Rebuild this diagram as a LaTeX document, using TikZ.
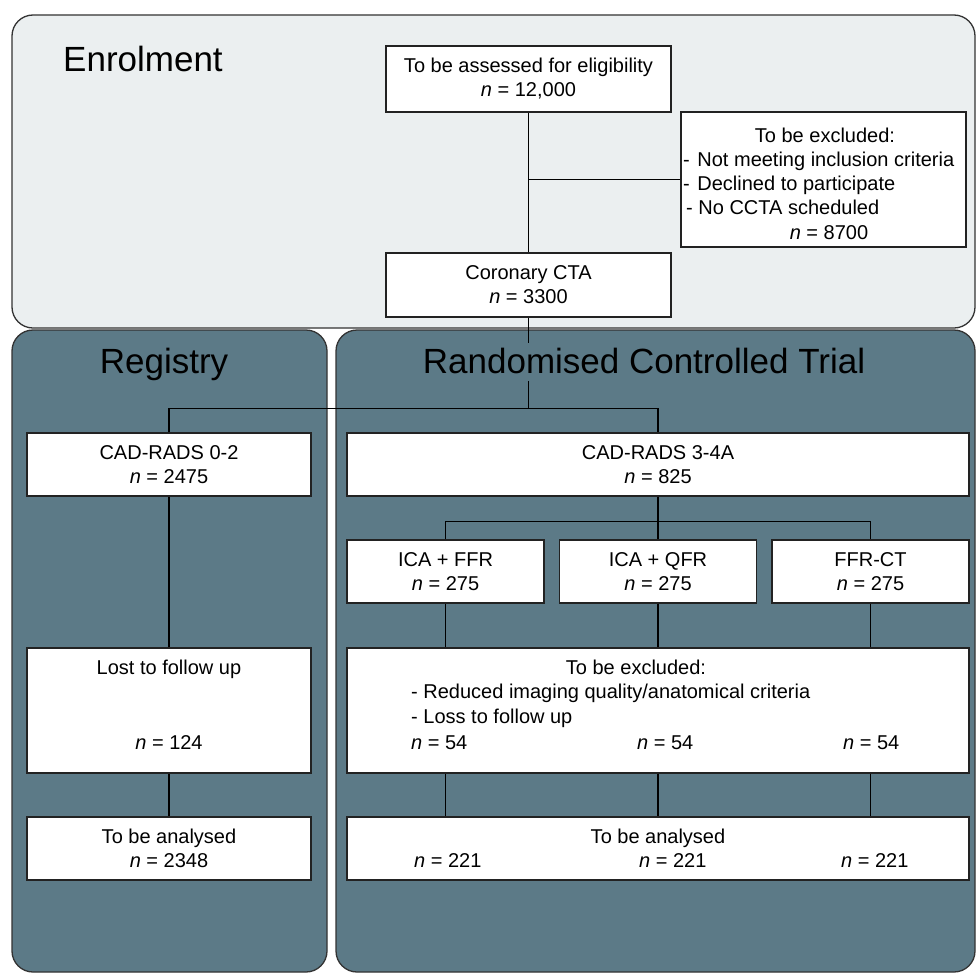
\documentclass[tikz,border=0pt]{standalone}
\usepackage{fontspec}
\setmainfont{Liberation Sans}
\newcommand{\bxfont}{\fontsize{20}{24}\selectfont}
\newcommand{\hdfont}{\fontsize{35}{40}\selectfont}
\definecolor{enrolfill}{HTML}{EBEFF0}
\definecolor{darkfill}{HTML}{5C7A87}
\definecolor{panelline}{HTML}{333333}
\definecolor{boxline}{HTML}{222222}
\begin{document}
\begin{tikzpicture}[x=1pt,y=-1pt,
  panel/.style={draw=panelline, line width=1.3pt, rounded corners=21pt},
  box/.style={draw=boxline, fill=white, line width=1.5pt, inner sep=0pt, align=center, font=\bxfont},
  conn/.style={draw=black, line width=1.5pt},
  txt/.style={inner sep=0pt, font=\bxfont},
  head/.style={inner sep=0pt, font=\hdfont, text=black}]
\useasboundingbox (0,0) rectangle (976,974);
\fill[white] (0,0) rectangle (976,974);
% panels
\draw[panel, fill=enrolfill] (12,15) rectangle (975,328);
\draw[panel, fill=darkfill] (12,330) rectangle (327,972);
\draw[panel, fill=darkfill] (336,330) rectangle (975,972);
% boxes
\node[box, minimum width=285pt, minimum height=66pt] (assess) at (528.5,79) {To be assessed for eligibility\\\textit{n} = 12,000};
\node[box, minimum width=285pt, minimum height=135pt] (excl1) at (823.5,179.5) {};
\node[box, minimum width=285pt, minimum height=64pt] (coronary) at (528.5,285) {Coronary CTA\\\textit{n} = 3300};
\node[box, minimum width=284pt, minimum height=63pt] (cad02) at (169,464.5) {CAD-RADS 0-2\\\textit{n} = 2475};
\node[box, minimum width=622pt, minimum height=63pt] (cad34) at (658,464.5) {CAD-RADS 3-4A\\\textit{n} = 825};
\node[box, minimum width=197pt, minimum height=63pt] (icaffr) at (445.5,571.5) {ICA + FFR\\\textit{n} = 275};
\node[box, minimum width=197pt, minimum height=63pt] (icaqfr) at (658,571.5) {ICA + QFR\\\textit{n} = 275};
\node[box, minimum width=197pt, minimum height=63pt] (ffrct) at (870.5,571.5) {FFR-CT\\\textit{n} = 275};
\node[box, minimum width=284pt, minimum height=125pt] (lost) at (169,710.5) {};
\node[box, minimum width=622pt, minimum height=125pt] (excl2) at (658,710.5) {};
\node[box, minimum width=284pt, minimum height=63pt] (anal1) at (169,848.5) {To be analysed\\\textit{n} = 2348};
\node[box, minimum width=622pt, minimum height=63pt] (anal2) at (658,848.5) {};
% texts inside boxes
\node[txt, anchor=base] (e1head) at (825,142) {To be excluded:};
\node[txt, anchor=base west] (e1a) at (683,166) {-\hspace{0.1em} Not meeting inclusion criteria};
\node[txt, anchor=base west] (e1b) at (683,190) {-\hspace{0.1em} Declined to participate};
\node[txt, anchor=base west] (e1c) at (686,214) {- No CCTA scheduled};
\node[txt, anchor=base] (e1n) at (829,239) {\textit{n} = 8700};
\node[txt, anchor=base] (losthead) at (169,674) {Lost to follow up};
\node[txt, anchor=base] (lostn) at (169,749) {\textit{n} = 124};
\node[txt, anchor=base] (e2head) at (636,674) {To be excluded:};
\node[txt, anchor=base west] (e2a) at (411,698) {- Reduced imaging quality/anatomical criteria};
\node[txt, anchor=base west] (e2b) at (411,723) {- Loss to follow up};
\node[txt, anchor=base west] (e2n1) at (411,749) {\textit{n} = 54};
\node[txt, anchor=base west] (e2n2) at (637,749) {\textit{n} = 54};
\node[txt, anchor=base west] (e2n3) at (843,749) {\textit{n} = 54};
\node[txt, anchor=base] (a2head) at (658,843) {To be analysed};
\node[txt, anchor=base west] (a2n1) at (414,867) {\textit{n} = 221};
\node[txt, anchor=base west] (a2n2) at (639,867) {\textit{n} = 221};
\node[txt, anchor=base west] (a2n3) at (841,867) {\textit{n} = 221};
% connectors
\coordinate (split1) at (528.5,408.7);
\coordinate (split2) at (658,521.7);
\draw[conn] (assess.south) -- (coronary.north);
\draw[conn] (assess.south |- excl1.west) -- (excl1.west);
\draw[conn] (coronary.south) -- (split1);
\draw[conn] (cad02.north) |- (split1) -| (cad34.north);
\draw[conn] (cad34.south) -- (icaqfr.north);
\draw[conn] (icaffr.north) |- (split2) -| (ffrct.north);
\draw[conn] (cad02.south) -- (lost.north);
\draw[conn] (lost.south) -- (anal1.north);
\draw[conn] (icaffr.south) -- (icaffr.south |- excl2.north);
\draw[conn] (icaqfr.south) -- (icaqfr.south |- excl2.north);
\draw[conn] (ffrct.south) -- (ffrct.south |- excl2.north);
\draw[conn] (icaffr.south |- excl2.south) -- (icaffr.south |- anal2.north);
\draw[conn] (excl2.south) -- (anal2.north);
\draw[conn] (ffrct.south |- excl2.south) -- (ffrct.south |- anal2.north);
% panel titles
\node[head, anchor=base west] (enroltitle) at (63,71) {Enrolment};
\node[head, anchor=base] (regtitle) at (164,373) {Registry};
\node[head, anchor=base, fill=darkfill, text height=30pt, text depth=8pt] (rcttitle) at (644,373) {Randomised Controlled Trial};
\end{tikzpicture}
\end{document}
